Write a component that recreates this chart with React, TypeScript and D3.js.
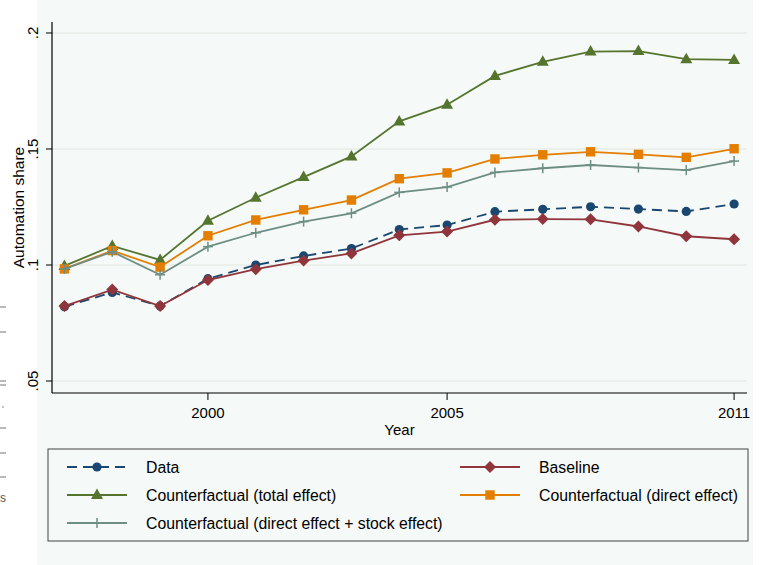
import React from "react";
import * as d3 from "d3";

const years = [1997, 1998, 1999, 2000, 2001, 2002, 2003, 2004, 2005, 2006, 2007, 2008, 2009, 2010, 2011];
const dataSeries = [0.082, 0.0882, 0.0823, 0.0941, 0.1, 0.1039, 0.1071, 0.1153, 0.1172, 0.123, 0.124, 0.1251, 0.1241, 0.1231, 0.1263];
const baseline = [0.0823, 0.0894, 0.0823, 0.0935, 0.0982, 0.1019, 0.105, 0.1128, 0.1144, 0.1195, 0.1198, 0.1197, 0.1166, 0.1124, 0.1111];
const totalEffect = [0.0996, 0.1082, 0.1022, 0.1191, 0.129, 0.1379, 0.1468, 0.1619, 0.1691, 0.1815, 0.1876, 0.192, 0.1922, 0.1887, 0.1884];
const directEffect = [0.0983, 0.1062, 0.0991, 0.1126, 0.1194, 0.1238, 0.128, 0.1372, 0.1397, 0.1457, 0.1475, 0.1488, 0.1477, 0.1464, 0.1501];
const stockEffect = [0.0983, 0.1057, 0.0958, 0.1079, 0.1139, 0.1187, 0.1223, 0.1313, 0.1336, 0.1399, 0.1417, 0.1431, 0.142, 0.1409, 0.1448];
const xTicks = [2000, 2005, 2011];
const yTicks = [0.05, 0.1, 0.15, 0.2];
const yTickLabels = [".05", ".1", ".15", ".2"];

type Marker = "circle" | "diamond" | "triangle" | "square" | "plus";
const series: { name: string; values: number[]; color: string; marker: Marker; dash?: string }[] = [
  { name: "Data", values: dataSeries, color: "#1A476F", marker: "circle", dash: "10,6" },
  { name: "Baseline", values: baseline, color: "#90353B", marker: "diamond" },
  { name: "Counterfactual (total effect)", values: totalEffect, color: "#55752F", marker: "triangle" },
  { name: "Counterfactual (direct effect)", values: directEffect, color: "#E37E00", marker: "square" },
  { name: "Counterfactual (direct effect + stock effect)", values: stockEffect, color: "#6E8E84", marker: "plus" },
];

const W = 761;
const H = 565;
const FONT = "'Liberation Sans', Arial, sans-serif";

function MarkerShape({ type, x, y, color }: { type: Marker; x: number; y: number; color: string }) {
  switch (type) {
    case "circle":
      return <circle cx={x} cy={y} r={4.6} fill={color} />;
    case "diamond":
      return <path d={`M${x},${y - 6}L${x + 6},${y}L${x},${y + 6}L${x - 6},${y}Z`} fill={color} />;
    case "triangle":
      return <path d={`M${x},${y - 6.5}L${x + 6},${y + 4}L${x - 6},${y + 4}Z`} fill={color} />;
    case "square":
      return <rect x={x - 4.7} y={y - 4.7} width={9.4} height={9.4} fill={color} />;
    case "plus":
      return (
        <g stroke={color} strokeWidth={1.5}>
          <line x1={x - 5} y1={y} x2={x + 5} y2={y} />
          <line x1={x} y1={y - 5} x2={x} y2={y + 5} />
        </g>
      );
  }
}

export default function App() {
  const left = 52, right = 747, top = 22, bottom = 393;
  const x = d3.scaleLinear().domain([1996.74, 2011.27]).range([left, right]);
  const y = d3.scaleLinear().domain([0.04483, 0.20474]).range([bottom, top]);
  const line = d3
    .line<number>()
    .x((_, i) => x(years[i]))
    .y((v) => y(v));

  const legendRows = [
    { s: series[0], col: 0, row: 0 },
    { s: series[1], col: 1, row: 0 },
    { s: series[2], col: 0, row: 1 },
    { s: series[3], col: 1, row: 1 },
    { s: series[4], col: 0, row: 2 },
  ];
  const colKeyX = [67, 460];
  const rowY = [467, 495, 523];

  const strayDashes = [307, 332, 428, 453, 477];

  return (
    <svg width={W} height={H} style={{ position: "absolute", left: 0, top: 0 }} fontFamily={FONT}>
      <rect x={0} y={0} width={W} height={H} fill="#ffffff" />
      <rect x={37} y={0} width={716} height={H} fill="#F5F9F7" />
      {/* stray edge marks */}
      <g stroke="#777" strokeWidth={1}>
        {strayDashes.map((d) => (
          <line key={d} x1={0} y1={d} x2={6} y2={d} />
        ))}
        <line x1={0} y1={381} x2={6} y2={381} />
        <line x1={0} y1={385} x2={6} y2={385} />
      </g>
      <circle cx={3} cy={407} r={0.8} fill="#777" />
      <text x={0} y={502} fontSize={12} fill="#555">s</text>

      {/* gridlines */}
      {yTicks.map((t) => (
        <line key={t} x1={left} x2={right} y1={y(t)} y2={y(t)} stroke="#E8ECEA" strokeWidth={1.5} />
      ))}
      {/* axes */}
      <line x1={left} x2={left} y1={top} y2={bottom} stroke="#000" strokeWidth={1.2} />
      <line x1={left} x2={right} y1={bottom} y2={bottom} stroke="#000" strokeWidth={1.2} />
      {yTicks.map((t, i) => (
        <g key={t}>
          <line x1={left - 6} x2={left} y1={y(t)} y2={y(t)} stroke="#000" strokeWidth={1} />
          <text
            transform={`translate(${38},${y(t)}) rotate(-90)`}
            textAnchor="middle"
            fontSize={15}
            fill="#000"
          >
            {yTickLabels[i]}
          </text>
        </g>
      ))}
      {xTicks.map((t) => (
        <g key={t}>
          <line x1={x(t)} x2={x(t)} y1={bottom} y2={bottom + 7} stroke="#000" strokeWidth={1} />
          <text x={x(t)} y={bottom + 25} textAnchor="middle" fontSize={15} fill="#000">
            {t}
          </text>
        </g>
      ))}
      <text x={(left + right) / 2} y={bottom + 42} textAnchor="middle" fontSize={15} fill="#000">
        Year
      </text>
      <text
        transform={`translate(${24},${(top + bottom) / 2}) rotate(-90)`}
        textAnchor="middle"
        fontSize={15.5}
        fill="#000"
      >
        Automation share
      </text>

      {/* series */}
      {series.map((s) => (
        <g key={s.name}>
          <path d={line(s.values) || ""} fill="none" stroke={s.color} strokeWidth={1.8} strokeDasharray={s.dash} />
          {s.values.map((v, i) => (
            <MarkerShape key={i} type={s.marker} x={x(years[i])} y={y(v)} color={s.color} />
          ))}
        </g>
      ))}

      {/* legend */}
      <rect x={48} y={449} width={700} height={92} fill="#F5F9F7" stroke="#444" strokeWidth={1} />
      {legendRows.map(({ s, col, row }) => {
        const kx = colKeyX[col];
        const ky = rowY[row];
        return (
          <g key={s.name}>
            <line x1={kx} x2={kx + 60} y1={ky} y2={ky} stroke={s.color} strokeWidth={1.8} strokeDasharray={s.dash} />
            <MarkerShape type={s.marker} x={kx + 30} y={ky} color={s.color} />
            <text x={kx + 79} y={ky + 5.5} fontSize={15.8} fill="#000">
              {s.name}
            </text>
          </g>
        );
      })}
    </svg>
  );
}
